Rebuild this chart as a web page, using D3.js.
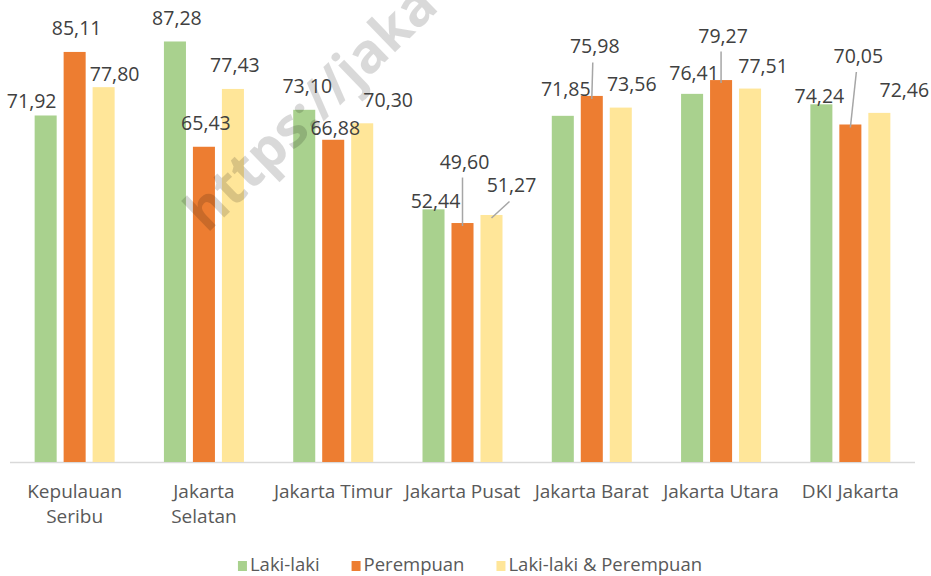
<!DOCTYPE html>
<meta charset="utf-8">
<style>
body { margin: 0; background: #fff; }
svg { display: block; }
text { font-family: "Open Sans", sans-serif; }
.axis-label { fill: #595959; font-size: 19px; }
.value-label { fill: #404040; font-size: 19.5px; }
.legend text { fill: #595959; font-size: 18.5px; }
.leader { stroke: #a6a6a6; stroke-width: 1.5px; }
</style>
<body>
<svg width="931" height="576"></svg>
<script src="https://cdn.jsdelivr.net/npm/d3@7/dist/d3.min.js"></script>
<script>
// wilayah (line breaks as in the original wrapped axis labels)
var categories = ["Kepulauan\nSeribu", "Jakarta\nSelatan", "Jakarta Timur", "Jakarta Pusat", "Jakarta Barat", "Jakarta Utara", "DKI Jakarta"];
var seriesNames = ["Laki-laki", "Perempuan", "Laki-laki & Perempuan"];
var lakiLaki  = [71.92, 87.28, 73.10, 52.44, 71.85, 76.41, 74.24];
var perempuan = [85.11, 65.43, 66.88, 49.60, 75.98, 79.27, 70.05];
var gabungan  = [77.80, 77.43, 70.30, 51.27, 73.56, 77.51, 72.46];

var colors = ["#a9d18e", "#ed7d31", "#ffe699"];

// manual label nudges (dx, dy from default spot), like the hand-placed labels in the original
var labelShift = [
  [[-16, 9], [0, 0], [9, 10]],
  [[0, 0], [0, 0], [0, 0]],
  [[1, 0], [0, 12], [24, 0]],
  [[0, 15], [0, -38], [18, -6]],
  [[1, -3], [1, -26], [9, 0]],
  [[0, 3], [0, -21], [11, 1]],
  [[-4, 15], [6, -45], [23, 1]]
];
var leaders = [
  [0, 0, 0], [0, 0, 0], [0, 0, 0],
  [0, 1, 1], [0, 1, 0], [0, 1, 0], [0, 1, 0]
];

var svg = d3.select("svg"),
    width = +svg.attr("width"),
    height = +svg.attr("height");

var baseline = 462;

var x0 = d3.scaleBand()
    .domain(categories)
    .range([10, 915])
    .paddingInner(0)
    .paddingOuter(0);

var x1 = d3.scaleBand()
    .domain(seriesNames)
    .range([x0.bandwidth() / 2 - 40, x0.bandwidth() / 2 + 40])
    .paddingInner(0.24);

var y = d3.scaleLinear()
    .domain([0, 90])
    .range([baseline, baseline - 90 * 4.818]);

var rows = categories.map(function(c, i) {
  return { cat: c, idx: i, values: [lakiLaki[i], perempuan[i], gabungan[i]] };
});

// axis line
svg.append("line")
    .attr("x1", x0.range()[0]).attr("x2", x0.range()[1])
    .attr("y1", baseline + 0.5).attr("y2", baseline + 0.5)
    .attr("stroke", "#d9d9d9")
    .attr("stroke-width", 1.5);

var groups = svg.append("g")
  .selectAll("g")
  .data(rows)
  .enter().append("g")
    .attr("transform", function(d) { return "translate(" + x0(d.cat) + ",0)"; });

var bars = groups.selectAll("rect")
  .data(function(d) { return d.values.map(function(v, j) { return { v: v, j: j, i: d.idx }; }); })
  .enter().append("rect")
    .attr("x", function(d) { return x1(seriesNames[d.j]); })
    .attr("width", x1.bandwidth())
    .attr("y", function(d) { return y(d.v); })
    .attr("height", function(d) { return baseline - y(d.v); })
    .attr("fill", function(d) { return colors[d.j]; });

// watermark, sits over the bars
svg.append("text")
    .attr("transform", "translate(207,234) rotate(-44)")
    .attr("font-size", 55)
    .attr("font-weight", "bold")
    .attr("fill", "#000")
    .attr("fill-opacity", 0.15)
    .text("https://jaka");

var labelLayer = svg.append("g")
  .selectAll("g")
  .data(rows)
  .enter().append("g")
    .attr("transform", function(d) { return "translate(" + x0(d.cat) + ",0)"; });

function labelX(d) { return x1(seriesNames[d.j]) + x1.bandwidth() / 2 + 2 + labelShift[d.i][d.j][0]; }
function labelY(d) { return y(d.v) - 16.5 + labelShift[d.i][d.j][1]; }

labelLayer.selectAll("line.leader")
  .data(function(d) { return d.values.map(function(v, j) { return { v: v, j: j, i: d.idx }; })
                             .filter(function(e) { return leaders[e.i][e.j]; }); })
  .enter().append("line")
    .attr("class", "leader")
    .attr("x1", function(d) { return labelX(d) - 2; })
    .attr("y1", function(d) { return labelY(d) + 9; })
    .attr("x2", function(d) { return x1(seriesNames[d.j]) + x1.bandwidth() / 2; })
    .attr("y2", function(d) { return y(d.v) + 3; });

labelLayer.selectAll("text.value-label")
  .data(function(d) { return d.values.map(function(v, j) { return { v: v, j: j, i: d.idx }; }); })
  .enter().append("text")
    .attr("class", "value-label")
    .attr("text-anchor", "middle")
    .attr("x", labelX)
    .attr("y", labelY)
    .text(function(d) { return d.v.toFixed(2).replace(".", ","); });

// category labels
var catLabels = svg.append("g")
  .selectAll("text")
  .data(categories)
  .enter().append("text")
    .attr("class", "axis-label")
    .attr("text-anchor", "middle")
    .attr("x", function(d) { return x0(d) + x0.bandwidth() / 2; })
    .attr("y", 498);

catLabels.selectAll("tspan")
  .data(function(d) { return d.split("\n"); })
  .enter().append("tspan")
    .attr("x", function() { var p = this.parentNode; return p.getAttribute("x"); })
    .attr("dy", function(d, k) { return k ? 25 : 0; })
    .text(function(d) { return d; });

// legend
var legend = svg.append("g").attr("class", "legend");
var item = legend.selectAll("g")
  .data(seriesNames)
  .enter().append("g");

item.append("rect")
    .attr("width", 9).attr("height", 10)
    .attr("y", 561)
    .attr("fill", function(d, i) { return colors[i]; });

item.append("text")
    .attr("x", 12)
    .attr("y", 571)
    .text(function(d) { return d; });

var xpos = 0;
item.each(function() {
  var w = d3.select(this).select("text").node().getComputedTextLength();
  d3.select(this).attr("transform", "translate(" + xpos + ",0)");
  xpos += 12 + w + 32;
});
var total = xpos - 32;
legend.attr("transform", "translate(" + (470 - total / 2) + ",0)");
</script>
</body>
